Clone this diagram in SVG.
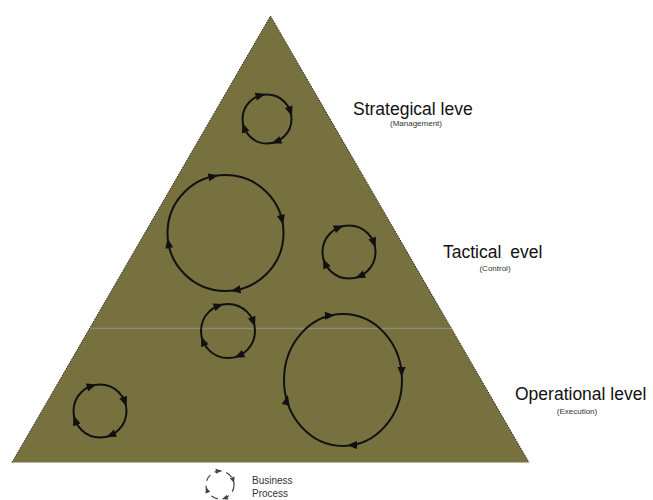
<svg xmlns="http://www.w3.org/2000/svg" xmlns:xlink="http://www.w3.org/1999/xlink" width="653" height="500" viewBox="0 0 653 500">
  <style>
    .cyc { fill: none; stroke: #111; stroke-width: 2; }
    .ah { fill: #111; }
    .lbl { font-family: "Liberation Sans", Arial, sans-serif; font-size: 17.5px; fill: #111; }
    .sub { font-family: "Liberation Sans", Arial, sans-serif; font-size: 8px; fill: #333; text-anchor: middle; }
    .leg { font-family: "Liberation Sans", Arial, sans-serif; font-size: 10px; fill: #333; }
  </style>
  <defs>
    <path id="ah" d="M-5,-4 L5,0 L-5,4 Z"/>
    <path id="ahs" d="M-3,-2.5 L3,0 L-3,2.5 Z"/>
  </defs>
  <rect width="653" height="500" fill="#ffffff"/>

  <g id="pyramid">
    <polygon points="270.5,16 12,462.5 529,462.5" fill="#76713e"/>
    <path d="M12,462.5 L270.5,16 L529,462.5" fill="none" stroke="#222" stroke-width="1" stroke-dasharray="1.5 1.2"/>
    <line x1="90" y1="328.5" x2="451" y2="328.5" stroke="#8c8b76" stroke-width="1.5"/>
  </g>

  <g id="connectors">
    <g id="cycle1" transform="translate(267,119)">
      <circle class="cyc" cx="0" cy="0" r="24.5"/>
      <use href="#ah" class="ah" transform="rotate(-105) translate(24.5,0) rotate(90)"/>
      <use href="#ah" class="ah" transform="rotate(-18) translate(24.5,0) rotate(90)"/>
      <use href="#ah" class="ah" transform="rotate(68) translate(24.5,0) rotate(90)"/>
      <use href="#ah" class="ah" transform="rotate(160) translate(24.5,0) rotate(90)"/>
    </g>
    <g id="cycle2" transform="translate(225.5,233)">
      <circle class="cyc" cx="0" cy="0" r="58"/>
      <use href="#ah" class="ah" transform="rotate(-102) translate(58,0) rotate(90)"/>
      <use href="#ah" class="ah" transform="rotate(-13) translate(58,0) rotate(90)"/>
      <use href="#ah" class="ah" transform="rotate(80) translate(58,0) rotate(90)"/>
      <use href="#ah" class="ah" transform="rotate(170) translate(58,0) rotate(90)"/>
    </g>
    <g id="cycle3" transform="translate(349,252)">
      <circle class="cyc" cx="0" cy="0" r="26.5"/>
      <use href="#ah" class="ah" transform="rotate(-112) translate(26.5,0) rotate(90)"/>
      <use href="#ah" class="ah" transform="rotate(-20) translate(26.5,0) rotate(90)"/>
      <use href="#ah" class="ah" transform="rotate(66) translate(26.5,0) rotate(90)"/>
      <use href="#ah" class="ah" transform="rotate(155) translate(26.5,0) rotate(90)"/>
    </g>
    <g id="cycle4" transform="translate(228,331)">
      <circle class="cyc" cx="0" cy="0" r="27"/>
      <use href="#ah" class="ah" transform="rotate(-110) translate(27,0) rotate(90)"/>
      <use href="#ah" class="ah" transform="rotate(-20) translate(27,0) rotate(90)"/>
      <use href="#ah" class="ah" transform="rotate(66) translate(27,0) rotate(90)"/>
      <use href="#ah" class="ah" transform="rotate(158) translate(27,0) rotate(90)"/>
    </g>
    <g id="cycle5">
      <ellipse class="cyc" cx="343" cy="380" rx="59" ry="66"/>
      <use href="#ah" class="ah" transform="translate(330,315.6) rotate(-3)"/>
      <use href="#ah" class="ah" transform="translate(401.6,372) rotate(90)"/>
      <use href="#ah" class="ah" transform="translate(352,445.2) rotate(178)"/>
      <use href="#ah" class="ah" transform="translate(286.8,400) rotate(-78)"/>
    </g>
    <g id="cycle6" transform="translate(100,411)">
      <circle class="cyc" cx="0" cy="0" r="26.5"/>
      <use href="#ah" class="ah" transform="rotate(-108) translate(26.5,0) rotate(90)"/>
      <use href="#ah" class="ah" transform="rotate(-20) translate(26.5,0) rotate(90)"/>
      <use href="#ah" class="ah" transform="rotate(66) translate(26.5,0) rotate(90)"/>
      <use href="#ah" class="ah" transform="rotate(160) translate(26.5,0) rotate(90)"/>
    </g>
  </g>

  <g id="strategic">
    <text class="lbl" x="353" y="115">Strategical leve</text>
    <text class="sub" x="416" y="126">(Management)</text>
  </g>
  <g id="tactical">
    <text class="lbl" x="443" y="258">Tactical <tspan dx="4">evel</tspan></text>
    <text class="sub" x="495" y="271">(Control)</text>
  </g>
  <g id="operational">
    <text class="lbl" x="515" y="400">Operational level</text>
    <text class="sub" x="577" y="414">(Execution)</text>
  </g>

  <g id="legend">
    <g transform="translate(220,485)">
      <circle cx="0" cy="0" r="14" fill="none" stroke="#444" stroke-width="1.2" stroke-dasharray="7 5"/>
      <use href="#ahs" fill="#444" transform="rotate(-95) translate(14,0) rotate(90)"/>
      <use href="#ahs" fill="#444" transform="rotate(-20) translate(14,0) rotate(90)"/>
      <use href="#ahs" fill="#444" transform="rotate(70) translate(14,0) rotate(90)"/>
      <use href="#ahs" fill="#444" transform="rotate(160) translate(14,0) rotate(90)"/>
    </g>
    <text class="leg" x="252" y="484">Business</text>
    <text class="leg" x="252" y="497">Process</text>
  </g>
</svg>
